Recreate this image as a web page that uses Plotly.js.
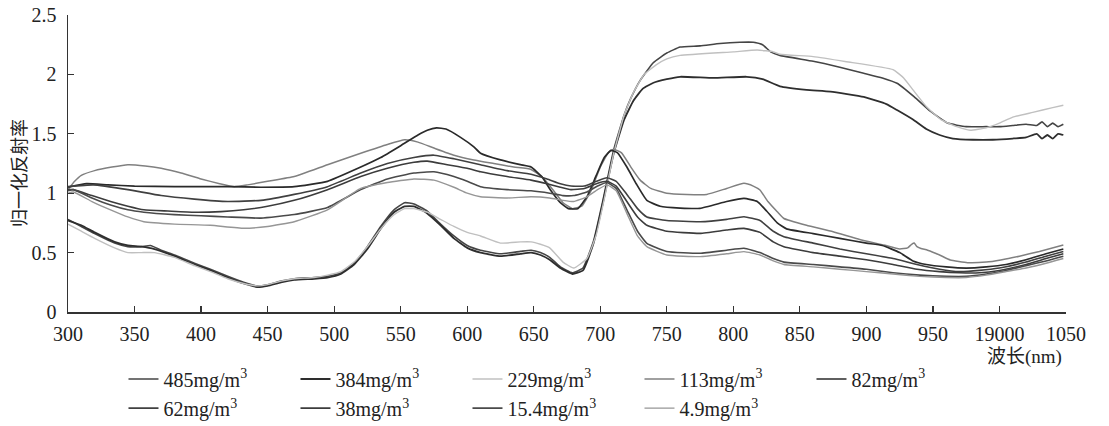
<!DOCTYPE html>
<html>
<head>
<meta charset="utf-8">
<script src="https://cdn.plot.ly/plotly-3.0.1.min.js"></script>
<style>html,body{margin:0;padding:0;background:#fff;}#chart{width:1109px;height:426px;}</style>
</head>
<body>
<div id="chart"></div>
<script>
// ---- tick labels ----
const xTickVals = [300,350,400,450,500,550,600,650,700,750,800,850,900,950,1000,1050];
const xTickText = ['300','350','400','450','500','550','600','650','700','750','800','850','900','950','19000','1050'];
const yTickVals = [0,0.5,1,1.5,2,2.5];
const yTickText = ['0','0.5','1','1.5','2','2.5'];

// ---- series names ----
const seriesNames = ['485mg/m<sup>3</sup>','384mg/m<sup>3</sup>','229mg/m<sup>3</sup>','113mg/m<sup>3</sup>','82mg/m<sup>3</sup>',
                     '62mg/m<sup>3</sup>','38mg/m<sup>3</sup>','15.4mg/m<sup>3</sup>','4.9mg/m<sup>3</sup>'];

// ---- 485 mg/m3 ----
const wl485 = [300,310,320,335,345,355,362,370,380,395,407,420,432,442,450,460,470,485,495,505,515,525,535,545,553,560,570,580,590,600,610,625,640,648,655,662,670,679,687,695,702,710,718,723,730,740,750,760,775,790,805,815,822,828,835,860,880,898,912,923,936,948,961,975,990,1000,1010,1020,1028,1032,1036,1040,1044,1048];
const r485  = [0.78,0.72,0.66,0.58,0.55,0.55,0.56,0.52,0.48,0.41,0.36,0.30,0.25,0.22,0.23,0.26,0.28,0.29,0.30,0.33,0.41,0.55,0.72,0.86,0.92,0.91,0.85,0.74,0.64,0.56,0.52,0.49,0.51,0.52,0.50,0.46,0.38,0.33,0.37,0.60,0.94,1.36,1.66,1.80,1.95,2.10,2.18,2.23,2.24,2.26,2.27,2.27,2.25,2.19,2.16,2.11,2.06,2.01,1.97,1.925,1.81,1.69,1.59,1.56,1.56,1.56,1.57,1.58,1.57,1.60,1.56,1.59,1.56,1.58];

// ---- 384 mg/m3 ----
const wl384 = [300,310,320,335,345,355,365,380,395,407,420,432,442,450,460,470,485,495,505,515,525,535,545,553,560,570,580,590,600,610,625,640,648,655,662,670,679,687,695,702,710,718,725,732,740,750,760,785,810,822,835,855,873,898,915,923,935,945,955,965,980,995,1010,1020,1028,1032,1036,1040,1044,1048];
const r384  = [0.77,0.73,0.67,0.59,0.56,0.55,0.53,0.47,0.40,0.35,0.29,0.24,0.21,0.22,0.25,0.27,0.28,0.29,0.32,0.40,0.53,0.70,0.84,0.89,0.89,0.83,0.73,0.62,0.54,0.50,0.47,0.49,0.50,0.48,0.44,0.37,0.32,0.35,0.58,0.92,1.33,1.62,1.78,1.88,1.93,1.96,1.98,1.97,1.98,1.96,1.90,1.87,1.855,1.81,1.75,1.70,1.62,1.54,1.49,1.46,1.45,1.45,1.46,1.47,1.50,1.46,1.49,1.46,1.50,1.49];

// ---- 229 mg/m3 ----
const wl229 = [300,310,320,335,345,355,365,380,395,407,420,432,442,450,460,470,485,495,505,515,525,535,545,553,560,570,580,590,600,610,625,640,648,655,662,672,680,690,697,703,710,718,725,733,742,750,760,800,818,830,835,860,885,920,928,935,945,956,968,978,990,1000,1010,1025,1040,1048];
const r229  = [0.74,0.68,0.62,0.54,0.50,0.50,0.50,0.46,0.39,0.34,0.28,0.24,0.22,0.23,0.26,0.28,0.29,0.31,0.34,0.42,0.55,0.70,0.82,0.87,0.87,0.84,0.78,0.72,0.67,0.64,0.58,0.59,0.59,0.57,0.54,0.42,0.37,0.45,0.65,0.95,1.33,1.66,1.85,2.00,2.08,2.13,2.16,2.19,2.205,2.19,2.17,2.15,2.107,2.04,1.97,1.87,1.73,1.62,1.56,1.53,1.55,1.59,1.64,1.68,1.72,1.74];

// ---- 113 mg/m3 ----
const wl113 = [300,305,310,320,333,345,358,370,385,400,414,425,435,450,470,495,520,540,553,563,575,590,605,620,635,648,657,665,672,679,686,693,700,706,710,716,723,730,738,750,765,780,795,808,815,820,826,833,838,855,875,895,913,925,931,934,936,938,941,946,955,963,976,990,1001,1015,1030,1048];
const r113  = [1.03,1.10,1.15,1.19,1.22,1.24,1.23,1.21,1.17,1.12,1.08,1.055,1.07,1.10,1.14,1.24,1.336,1.41,1.45,1.43,1.38,1.32,1.28,1.25,1.22,1.20,1.13,1.02,0.92,0.87,0.89,1.02,1.22,1.34,1.37,1.34,1.22,1.11,1.04,1.00,0.99,0.99,1.04,1.083,1.06,1.027,0.93,0.844,0.787,0.73,0.676,0.61,0.564,0.53,0.54,0.57,0.58,0.55,0.535,0.52,0.48,0.438,0.415,0.42,0.438,0.47,0.51,0.564];

// ---- 82 mg/m3 ----
const wl82 = [300,314,330,350,380,420,445,470,495,520,535,550,563,570,577,584,595,605,610,625,640,648,656,663,670,676,683,690,697,703,708,713,720,727,735,745,760,775,795,808,818,825,833,840,860,880,900,912,925,935,945,960,975,990,1005,1020,1035,1048];
const r82  = [1.05,1.08,1.07,1.06,1.055,1.055,1.05,1.055,1.10,1.22,1.30,1.40,1.49,1.53,1.55,1.54,1.47,1.39,1.336,1.28,1.24,1.22,1.14,1.02,0.92,0.87,0.87,0.97,1.15,1.30,1.36,1.34,1.22,1.08,0.94,0.89,0.875,0.873,0.93,0.957,0.93,0.85,0.75,0.70,0.66,0.62,0.58,0.56,0.50,0.43,0.40,0.38,0.37,0.38,0.40,0.44,0.49,0.53];

// ---- 62 mg/m3 ----
const wl62 = [300,319,345,370,395,420,445,470,495,520,540,560,575,590,610,630,648,660,670,678,688,697,705,712,720,728,735,750,775,795,808,820,830,838,860,880,900,920,938,955,970,985,1000,1020,1035,1048];
const r62  = [1.055,1.07,1.03,0.98,0.95,0.93,0.94,0.99,1.055,1.17,1.25,1.30,1.32,1.29,1.24,1.19,1.16,1.12,1.08,1.06,1.06,1.10,1.13,1.10,0.99,0.87,0.80,0.77,0.76,0.78,0.802,0.77,0.68,0.634,0.58,0.53,0.49,0.45,0.40,0.36,0.34,0.35,0.37,0.42,0.47,0.51];

// ---- 38 mg/m3 ----
const wl38 = [300,304,318,332,345,357,375,395,415,432,450,470,495,520,540,560,570,585,600,610,630,648,660,670,678,688,697,705,712,720,728,735,750,775,795,808,820,830,838,860,880,900,920,938,955,970,985,1000,1020,1035,1048];
const r38  = [1.03,1.03,0.98,0.93,0.89,0.86,0.85,0.84,0.845,0.86,0.89,0.94,1.03,1.14,1.21,1.26,1.27,1.24,1.21,1.18,1.14,1.11,1.08,1.05,1.03,1.04,1.08,1.10,1.06,0.93,0.80,0.73,0.68,0.662,0.69,0.704,0.67,0.59,0.55,0.50,0.47,0.44,0.40,0.36,0.34,0.33,0.33,0.35,0.40,0.45,0.49];

// ---- 15.4 mg/m3 ----
const wl15 = [300,304,318,332,345,357,380,400,420,445,470,495,520,540,560,575,590,600,610,630,648,662,672,680,690,698,705,712,720,728,735,750,775,795,808,820,830,838,860,880,900,920,940,960,975,990,1005,1020,1035,1048];
const r15  = [1.02,1.03,0.96,0.90,0.86,0.84,0.82,0.81,0.80,0.79,0.82,0.88,1.03,1.12,1.17,1.18,1.14,1.10,1.055,1.03,1.02,1.00,0.98,0.98,1.01,1.06,1.09,1.04,0.86,0.68,0.578,0.51,0.494,0.52,0.536,0.50,0.45,0.42,0.40,0.38,0.36,0.33,0.31,0.30,0.30,0.32,0.35,0.39,0.43,0.47];

// ---- 4.9 mg/m3 ----
const wl49 = [300,304,318,332,345,357,380,407,432,450,470,495,520,540,560,575,590,600,610,630,648,662,672,680,690,698,705,712,720,728,735,750,775,795,808,820,830,838,860,880,900,920,940,960,975,990,1005,1020,1035,1048];
const r49  = [1.00,1.01,0.93,0.86,0.80,0.76,0.74,0.73,0.705,0.72,0.76,0.86,1.04,1.09,1.12,1.11,1.05,1.00,0.97,0.96,0.97,0.96,0.94,0.93,0.97,1.03,1.07,1.02,0.83,0.64,0.55,0.48,0.466,0.49,0.508,0.48,0.43,0.40,0.38,0.36,0.34,0.32,0.30,0.29,0.29,0.31,0.34,0.37,0.41,0.45];

const xs = [wl485, wl384, wl229, wl113, wl82, wl62, wl38, wl15, wl49];
const ys = [r485, r384, r229, r113, r82, r62, r38, r15, r49];
const colors = ['#454545','#2e2e2e','#c0c0c0','#808080','#2a2a2a','#404040','#3c3c3c','#4a4a4a','#969696'];
const widths = [1.6,1.8,1.4,1.5,1.7,1.6,1.6,1.6,1.4];

const traces = xs.map((x, i) => ({
  type: 'scatter', mode: 'lines',
  x: x, y: ys[i], name: seriesNames[i],
  line: {color: colors[i], width: widths[i], shape: 'spline', smoothing: 0.4},
  legend: i < 5 ? 'legend' : 'legend2',
  hoverinfo: 'skip'
}));

const serif = 'Liberation Serif, Noto Sans CJK SC, serif';
const legendBase = {
  orientation: 'h', xanchor: 'left', yanchor: 'top', x: 0.0556,
  entrywidth: 127, entrywidthmode: 'pixels', itemwidth: 30,
  font: {family: serif, size: 20, color: '#222'},
  bgcolor: 'rgba(0,0,0,0)', traceorder: 'normal'
};

const layout = {
  width: 1109, height: 426,
  margin: {l: 68, r: 43, t: 15, b: 114, autoexpand: false},
  paper_bgcolor: '#ffffff', plot_bgcolor: '#ffffff',
  showlegend: true,
  xaxis: {
    range: [300, 1050], showgrid: false, zeroline: false,
    showline: true, linecolor: '#333', linewidth: 1.5,
    ticks: 'inside', ticklen: 6, tickcolor: '#333', tickwidth: 1.2,
    tickvals: xTickVals, ticktext: xTickText, ticklabelstandoff: 3,
    tickfont: {family: serif, size: 20, color: '#222'}
  },
  yaxis: {
    range: [0, 2.5], showgrid: false, zeroline: false,
    showline: true, linecolor: '#333', linewidth: 1.5,
    ticks: 'inside', ticklen: 6, tickcolor: '#333', tickwidth: 1.2,
    tickvals: yTickVals, ticktext: yTickText, ticklabelstandoff: 6,
    tickfont: {family: serif, size: 20, color: '#222'}
  },
  legend: Object.assign({}, legendBase, {y: -0.16}),
  legend2: Object.assign({}, legendBase, {y: -0.258}),
  annotations: [
    {text: '归一化反射率', xref: 'paper', yref: 'paper', x: -0.0496, y: 0.47,
     xanchor: 'center', yanchor: 'middle', textangle: -90, showarrow: false,
     font: {family: 'Noto Sans CJK SC', size: 18, color: '#222'}},
    {text: '波长(nm)', xref: 'paper', yref: 'paper', x: 0.9975, y: -0.1515,
     xanchor: 'right', yanchor: 'middle', showarrow: false,
     font: {family: serif, size: 19, color: '#222'}}
  ]
};

Plotly.newPlot('chart', traces, layout, {displayModeBar: false, staticPlot: true});
</script>
</body>
</html>
